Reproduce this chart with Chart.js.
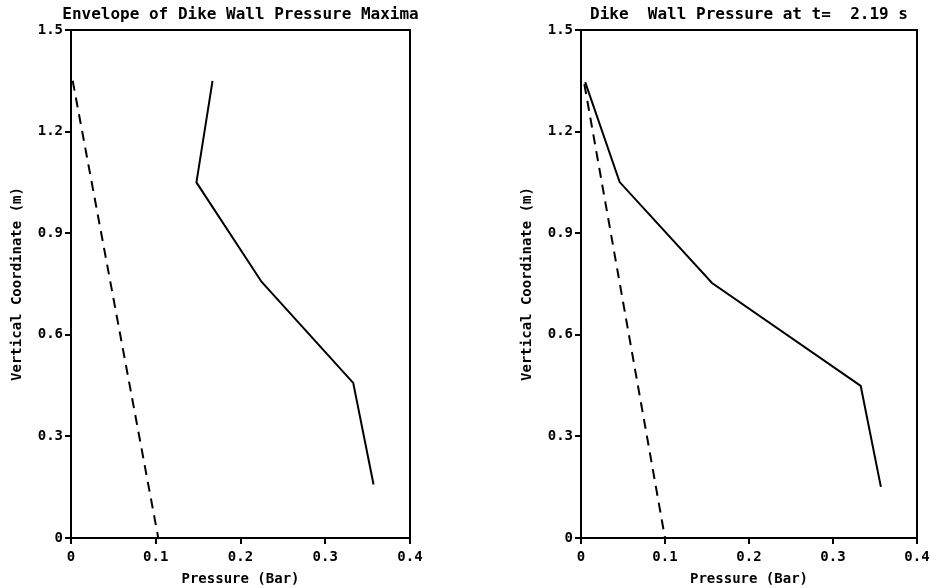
<!DOCTYPE html>
<html>
<head>
<meta charset="utf-8">
<script src="https://cdn.jsdelivr.net/npm/chart.js@4"></script>
<style>
  body { margin: 0; background: #fff; width: 930px; height: 588px; position: relative; overflow: hidden; }
  .box { position: absolute; top: 0; height: 588px; }
</style>
</head>
<body>
<div class="box" style="left:0;width:465px"><canvas id="chartEnvelope"></canvas></div>
<div class="box" style="left:510px;width:440px"><canvas id="chartSnapshot"></canvas></div>
<script>
// tick labels
const xTickLabels = ["0", "0.1", "0.2", "0.3", "0.4"];
const yTickLabels = ["0", "0.3", "0.6", "0.9", "1.2", "1.5"];

// envelope of maxima (left)
const envPressure = [0.167, 0.148, 0.225, 0.333, 0.357];
const envHeight = [1.35, 1.05, 0.756, 0.458, 0.158];
const envHydroPressure = [0.002, 0.103];
const envHydroHeight = [1.35, 0];

// pressure at t = 2.19 s (right)
const snapPressure = [0.005, 0.046, 0.156, 0.333, 0.357];
const snapHeight = [1.346, 1.051, 0.753, 0.449, 0.151];
const snapHydroPressure = [0.004, 0.1];
const snapHydroHeight = [1.34, 0];

const FONT = "'DejaVu Sans Mono', monospace";

const pts = (xs, ys) => xs.map((x, i) => ({ x: x, y: ys[i] }));

// frame + title drawn on the chart area
const framePlugin = {
  id: "frame",
  afterDraw(chart, args, opts) {
    const a = chart.chartArea;
    const ctx = chart.ctx;
    ctx.save();
    ctx.strokeStyle = "#000";
    ctx.lineWidth = 2;
    ctx.strokeRect(a.left, a.top, a.right - a.left, a.bottom - a.top);
    ctx.fillStyle = "#000";
    ctx.font = "bold 16px " + FONT;
    ctx.textAlign = "center";
    ctx.textBaseline = "middle";
    ctx.fillText(opts.text, (a.left + a.right) / 2, 15);
    ctx.restore();
  },
};

function makeChart(id, title, solid, dashed, padRight) {
  return new Chart(document.getElementById(id).getContext("2d"), {
    type: "scatter",
    data: {
      datasets: [
        {
          label: "Pressure",
          data: solid,
          showLine: true,
          borderColor: "#000",
          borderWidth: 2,
          pointRadius: 0,
          tension: 0,
        },
        {
          label: "Hydrostatic",
          data: dashed,
          showLine: true,
          borderColor: "#000",
          borderWidth: 2,
          borderDash: [10, 7],
          pointRadius: 0,
          tension: 0,
        },
      ],
    },
    options: {
      responsive: true,
      maintainAspectRatio: false,
      animation: false,
      layout: { padding: { top: 30, right: padRight, left: 0, bottom: 0 } },
      plugins: {
        legend: { display: false },
        tooltip: { enabled: false },
        frame: { text: title },
      },
      scales: {
        x: {
          type: "linear",
          min: 0,
          max: 0.4,
          afterFit: (s) => { s.height = 50; },
          grid: { drawOnChartArea: false, color: "#000", tickLength: 6, lineWidth: 2 },
          border: { color: "#000", width: 2 },
          ticks: {
            stepSize: 0.1,
            color: "#000",
            padding: 5,
            maxRotation: 0,
            font: { family: FONT, size: 14, weight: "bold" },
            callback: (v, i) => xTickLabels[i],
          },
          title: {
            display: true,
            text: "Pressure (Bar)",
            color: "#000",
            padding: { top: 0, bottom: 0 },
            font: { family: FONT, size: 14, weight: "bold" },
          },
        },
        y: {
          type: "linear",
          min: 0,
          max: 1.5,
          afterFit: (s) => { s.width = 71; },
          grid: { drawOnChartArea: false, color: "#000", tickLength: 6, lineWidth: 2 },
          border: { color: "#000", width: 2 },
          ticks: {
            stepSize: 0.3,
            color: "#000",
            padding: 2,
            font: { family: FONT, size: 14, weight: "bold" },
            callback: (v, i) => yTickLabels[i],
          },
          title: {
            display: true,
            text: "Vertical Coordinate (m)",
            color: "#000",
            padding: { top: 9, bottom: 0 },
            font: { family: FONT, size: 14, weight: "bold" },
          },
        },
      },
    },
    plugins: [framePlugin],
  });
}

makeChart(
  "chartEnvelope",
  "Envelope of Dike Wall Pressure Maxima",
  pts(envPressure, envHeight),
  pts(envHydroPressure, envHydroHeight),
  55
);
makeChart(
  "chartSnapshot",
  "Dike  Wall Pressure at t=  2.19 s",
  pts(snapPressure, snapHeight),
  pts(snapHydroPressure, snapHydroHeight),
  33
);
</script>
</body>
</html>
